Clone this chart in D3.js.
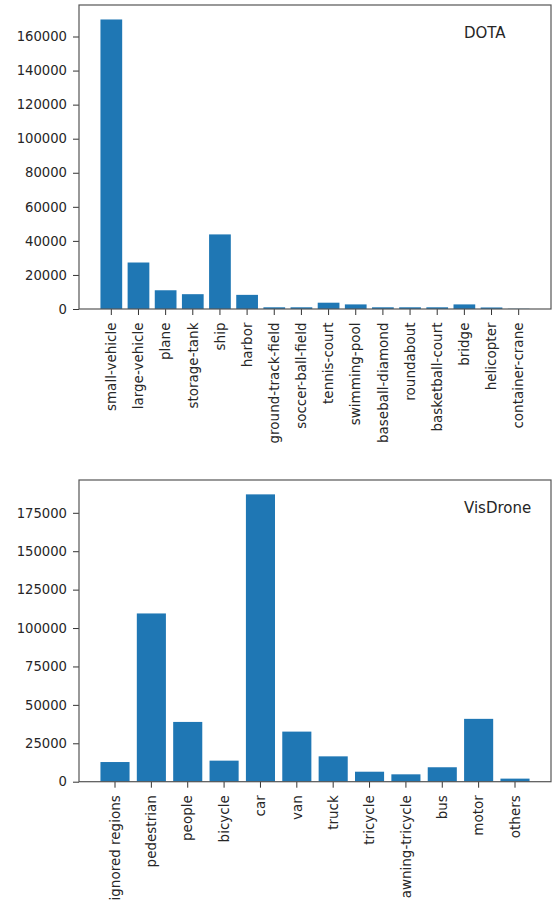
<!DOCTYPE html>
<html>
<head>
<meta charset="utf-8">
<script src="https://cdn.jsdelivr.net/npm/d3@7"></script>
<style>
  html, body { margin: 0; padding: 0; background: #fff; }
  svg { display: block; }
  text { font-family: "DejaVu Sans", sans-serif; fill: #262626; }
</style>
</head>
<body>
<div id="chart"></div>
<script>
// ---- DOTA ----
const dotaCategories = ["small-vehicle","large-vehicle","plane","storage-tank","ship","harbor",
  "ground-track-field","soccer-ball-field","tennis-court","swimming-pool","baseball-diamond",
  "roundabout","basketball-court","bridge","helicopter","container-crane"];
const dotaValues = [170000, 27300, 11000, 8700, 43800, 8300, 1000, 1000, 3700, 2700, 1000, 1000, 1000, 2700, 900, 150];
const dotaTicks = [0, 20000, 40000, 60000, 80000, 100000, 120000, 140000, 160000];
const dotaTitle = "DOTA";

// ---- VisDrone ----
const visCategories = ["ignored regions","pedestrian","people","bicycle","car","van","truck",
  "tricycle","awning-tricycle","bus","motor","others"];
const visValues = [12800, 109500, 38900, 13700, 187000, 32600, 16500, 6500, 4800, 9400, 40900, 2000];
const visTicks = [0, 25000, 50000, 75000, 100000, 125000, 150000, 175000];
const visTitle = "VisDrone";

const W = 553, H = 901;
const svg = d3.select("#chart").append("svg").attr("width", W).attr("height", H);

function drawPanel(cats, vals, ticks, title, box) {
  const n = cats.length;
  const m = 0.05 * (n - 0.2);
  const x = d3.scaleBand().domain(cats).range([box.left, box.right])
    .paddingInner(0.2).paddingOuter(m);
  const ymax = d3.max(vals) * 1.05;
  const y = d3.scaleLinear().domain([0, ymax]).range([box.bottom, box.top]);
  const g = svg.append("g");

  g.selectAll("rect.bar").data(cats).enter().append("rect")
    .attr("class", "bar")
    .attr("x", d => x(d))
    .attr("width", x.bandwidth())
    .attr("y", (d, i) => y(vals[i]))
    .attr("height", (d, i) => y(0) - y(vals[i]))
    .attr("fill", "#1f77b4");

  // y axis
  const ya = g.append("g").attr("transform", `translate(${box.left},0)`)
    .call(d3.axisLeft(y).tickValues(ticks).tickFormat(d3.format("d")).tickSize(6).tickPadding(6));
  ya.select(".domain").remove();
  ya.selectAll(".tick line").attr("stroke", "#333");
  ya.selectAll(".tick text").attr("font-size", 13.2).attr("fill", "#262626");

  // x axis
  const xa = g.append("g").attr("transform", `translate(0,${box.bottom})`)
    .call(d3.axisBottom(x).tickSize(6).tickPadding(5));
  xa.select(".domain").remove();
  xa.selectAll(".tick line").attr("stroke", "#333");
  xa.selectAll(".tick text")
    .attr("font-size", 13.5).attr("fill", "#262626")
    .attr("transform", "rotate(-90)")
    .attr("text-anchor", "end")
    .attr("x", -13.5).attr("y", 0).attr("dy", "0.35em");

  // frame
  g.append("rect").attr("x", box.left).attr("y", box.top)
    .attr("width", box.right - box.left).attr("height", box.bottom - box.top)
    .attr("fill", "none").attr("stroke", "#555").attr("stroke-width", 1.2);

  g.append("text").attr("x", box.right - 87).attr("y", box.top + 33)
    .attr("font-size", 15).text(title);
}

drawPanel(dotaCategories, dotaValues, dotaTicks, dotaTitle, {left: 79, right: 551, top: 5, bottom: 309});
drawPanel(visCategories, visValues, visTicks, visTitle, {left: 79, right: 551, top: 480, bottom: 781.7});
</script>
</body>
</html>
